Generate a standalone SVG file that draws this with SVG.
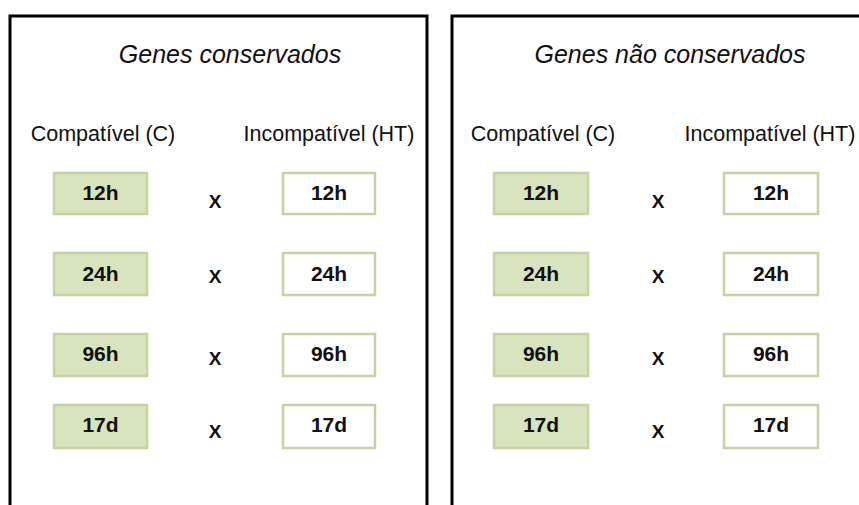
<svg xmlns="http://www.w3.org/2000/svg" width="859" height="505" viewBox="0 0 859 505">
<style>
.frame{fill:none;stroke:#000;stroke-width:3}
.title{font-family:"Liberation Sans",Arial,sans-serif;font-style:italic;font-size:25px;fill:#111;text-anchor:middle}
.head{font-family:"Liberation Sans",Arial,sans-serif;font-size:21.5px;fill:#111;text-anchor:middle}
.g{fill:#d7e4bd;stroke:#c4d3a0;stroke-width:2.5}
.w{fill:#fff;stroke:#c4d3a0;stroke-width:2.5}
.lbl{font-family:"Liberation Sans",Arial,sans-serif;font-weight:bold;font-size:21px;fill:#111;text-anchor:middle}
.x{font-family:"Liberation Sans",Arial,sans-serif;font-weight:bold;font-size:19px;fill:#111;text-anchor:middle}
</style>
<rect width="859" height="505" fill="#fff"/>
<g id="panel-left">
<path class="frame" d="M10,510 V16 H427 V510"/>
<text class="title" x="230" y="63">Genes conservados</text>
<text class="head" x="103" y="141">Compatível (C)</text>
<text class="head" x="329" y="141">Incompatível (HT)</text>
</g>
<g id="panel-right">
<path class="frame" d="M452,510 V16 H870"/>
<text class="title" x="670" y="63">Genes não conservados</text>
<text class="head" x="543" y="141">Compatível (C)</text>
<text class="head" x="770" y="141">Incompatível (HT)</text>
</g>
<g id="L-C-12h"><rect class="g" x="54" y="173" width="93" height="41"/><text class="lbl" x="100.5" y="200">12h</text></g>
<g id="L-X-12h"><text class="x" x="215" y="208">X</text></g>
<g id="L-HT-12h"><rect class="w" x="283" y="173" width="92" height="41"/><text class="lbl" x="329" y="200">12h</text></g>
<g id="L-C-24h"><rect class="g" x="54" y="253" width="93" height="42"/><text class="lbl" x="100.5" y="281">24h</text></g>
<g id="L-X-24h"><text class="x" x="215" y="283">X</text></g>
<g id="L-HT-24h"><rect class="w" x="283" y="253" width="92" height="42"/><text class="lbl" x="329" y="281">24h</text></g>
<g id="L-C-96h"><rect class="g" x="54" y="334" width="93" height="42"/><text class="lbl" x="100.5" y="361">96h</text></g>
<g id="L-X-96h"><text class="x" x="215" y="365">X</text></g>
<g id="L-HT-96h"><rect class="w" x="283" y="334" width="92" height="42"/><text class="lbl" x="329" y="361">96h</text></g>
<g id="L-C-17d"><rect class="g" x="54" y="405" width="93" height="43"/><text class="lbl" x="100.5" y="432">17d</text></g>
<g id="L-X-17d"><text class="x" x="215" y="438">X</text></g>
<g id="L-HT-17d"><rect class="w" x="283" y="405" width="92" height="43"/><text class="lbl" x="329" y="432">17d</text></g>
<g id="R-C-12h"><rect class="g" x="494" y="173" width="94" height="41"/><text class="lbl" x="541" y="200">12h</text></g>
<g id="R-X-12h"><text class="x" x="658" y="208">X</text></g>
<g id="R-HT-12h"><rect class="w" x="724" y="173" width="94" height="41"/><text class="lbl" x="771" y="200">12h</text></g>
<g id="R-C-24h"><rect class="g" x="494" y="253" width="94" height="42"/><text class="lbl" x="541" y="281">24h</text></g>
<g id="R-X-24h"><text class="x" x="658" y="283">X</text></g>
<g id="R-HT-24h"><rect class="w" x="724" y="253" width="94" height="42"/><text class="lbl" x="771" y="281">24h</text></g>
<g id="R-C-96h"><rect class="g" x="494" y="334" width="94" height="42"/><text class="lbl" x="541" y="361">96h</text></g>
<g id="R-X-96h"><text class="x" x="658" y="365">X</text></g>
<g id="R-HT-96h"><rect class="w" x="724" y="334" width="94" height="42"/><text class="lbl" x="771" y="361">96h</text></g>
<g id="R-C-17d"><rect class="g" x="494" y="405" width="94" height="43"/><text class="lbl" x="541" y="432">17d</text></g>
<g id="R-X-17d"><text class="x" x="658" y="438">X</text></g>
<g id="R-HT-17d"><rect class="w" x="724" y="405" width="94" height="43"/><text class="lbl" x="771" y="432">17d</text></g>
<g id="connectors"></g>
</svg>
